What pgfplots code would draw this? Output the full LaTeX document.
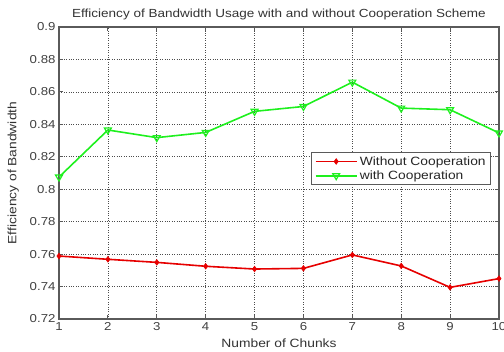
\documentclass[border=0pt]{standalone}
\usepackage{pgfplots}
\pgfplotsset{compat=1.18}
\usepackage{fontspec}
\setmainfont{Liberation Sans}[FakeStretch=1.15]
\definecolor{axgray}{RGB}{90,90,90}
\definecolor{mred}{RGB}{230,0,0}
\definecolor{mgreen}{RGB}{30,240,30}
\begin{document}
\begin{tikzpicture}
\useasboundingbox (-59pt,-33pt) rectangle (445pt,319pt);
\begin{axis}[
  scale only axis,
  width=440pt, height=292pt,
  at={(0,0)}, anchor=south west,
  xmin=1, xmax=10, ymin=0.72, ymax=0.9,
  xtick={1,...,10},
  ytick={0.72,0.74,0.76,0.78,0.8,0.82,0.84,0.86,0.88,0.9},
  yticklabel style={/pgf/number format/fixed, /pgf/number format/precision=2},
  /pgf/number format/assume math mode=true,
  tick label style={font=\fontsize{11.5}{12}\selectfont, text=black!75},
  tick align=inside,
  major tick length=4pt,
  axis line style={axgray, line width=1.3pt},
  tick style={axgray, line width=0.8pt},
  grid=major,
  grid style={black!70, dotted, line width=0.6pt},
  title={Efficiency of Bandwidth Usage with and without Cooperation Scheme},
  title style={font=\fontsize{11.75}{13}\selectfont, text=black!80, yshift=-2pt},
  xlabel={Number of Chunks},
  ylabel={Efficiency of Bandwidth},
  xlabel style={font=\fontsize{12}{13}\selectfont, text=black!80, yshift=-1pt},
  ylabel style={font=\fontsize{12}{13}\selectfont, text=black!80, yshift=4pt},
  legend style={at={(0.982,0.572)}, anchor=north east, draw=axgray, thick,
    font=\fontsize{12}{13}\selectfont, text=black!85, inner xsep=3pt, inner ysep=2pt,
    row sep=0pt},
  legend cell align=left,
  legend image code/.code={
    \draw[#1, line width=1.8pt] (0cm,0cm) -- (1.45cm,0cm);
    \draw[#1, only marks] plot coordinates {(0.72cm,0cm)};},
]
\addplot[color=mred, line width=1.6pt, mark=diamond*, mark size=2.8pt, mark options={solid, fill=mred, line width=0.6pt}]
coordinates {
(1,0.7588) (2,0.7568) (3,0.7549) (4,0.7525) (5,0.7508)
(6,0.7512) (7,0.7595) (8,0.7527) (9,0.7395) (10,0.7449)
};
\addlegendentry{Without Cooperation}
\addplot[color=mgreen, line width=1.6pt, mark=triangle, mark size=4pt, mark options={solid, rotate=180, line width=1.2pt}]
coordinates {
(1,0.8075) (2,0.8365) (3,0.8318) (4,0.835) (5,0.848)
(6,0.851) (7,0.866) (8,0.850) (9,0.849) (10,0.8347)
};
\addlegendentry{with Cooperation}
\end{axis}
\end{tikzpicture}
\end{document}
